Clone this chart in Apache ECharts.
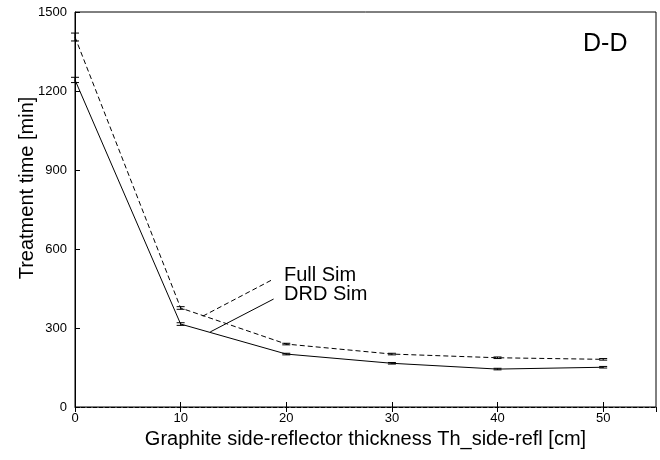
<!DOCTYPE html>
<html>
<head>
<meta charset="utf-8">
<script src="https://cdn.jsdelivr.net/npm/echarts@6/dist/echarts.min.js"></script>
<style>
  html, body { margin: 0; padding: 0; background: #fff; }
  #chart { width: 660px; height: 460px; }
</style>
</head>
<body>
<div id="chart"></div>
<script>
const thickness = [0, 10, 20, 30, 40, 50]
const fullSim = [1405, 376, 239, 201, 187, 181]
const fullSimErr = [15, 5, 3, 3, 3, 3]
const drdSim = [1242, 315, 201, 166, 144, 151]
const drdSimErr = [10, 5, 3, 3, 3, 3]
const xTicks = [0, 10, 20, 30, 40, 50]
const yTicks = [0, 300, 600, 900, 1200, 1500]

const font = 'Liberation Sans, Arial, sans-serif'

function errBars(vals, errs) {
	return thickness.map((x, i) => [x, vals[i] - errs[i], vals[i] + errs[i]])
}

function renderErr(params, api) {
	const lo = api.coord([api.value(0), api.value(1)])
	const hi = api.coord([api.value(0), api.value(2)])
	const w = 4
	const style = { stroke: '#000', lineWidth: 1 }
	return {
		type: 'group',
		children: [
			{ type: 'line', shape: { x1: lo[0], y1: lo[1], x2: hi[0], y2: hi[1] }, style },
			{ type: 'line', shape: { x1: lo[0] - w, y1: lo[1], x2: lo[0] + w, y2: lo[1] }, style },
			{ type: 'line', shape: { x1: hi[0] - w, y1: hi[1], x2: hi[0] + w, y2: hi[1] }, style },
		],
	}
}

const chart = echarts.init(document.getElementById('chart'))
chart.setOption({
	animation: false,
	textStyle: { fontFamily: font },
	grid: {
		left: 75, right: 4, top: 12, bottom: 53,
		show: true, borderColor: '#000', borderWidth: 1,
	},
	xAxis: [{
		type: 'value', min: 0, max: 55, interval: 10,
		name: 'Graphite side-reflector thickness Th_side-refl [cm]',
		nameLocation: 'middle', nameGap: 22,
		nameTextStyle: { fontSize: 20, color: '#000', fontFamily: font },
		axisLine: { show: true, onZero: false, lineStyle: { color: '#000', type: [4, 2] } },
		axisTick: { inside: true, length: 5, lineStyle: { color: '#000' } },
		axisLabel: {
			color: '#000', fontSize: 13, margin: 5, showMaxLabel: false,
			formatter: (v) => (xTicks.includes(v) ? String(v) : ''),
		},
		splitLine: { show: false },
	}, {
		type: 'value', min: 0, max: 55, interval: 10, position: 'top',
		axisLine: { show: false },
		axisTick: { inside: true, length: 5, lineStyle: { color: '#000' } },
		axisLabel: { show: false },
		splitLine: { show: false },
	}],
	yAxis: {
		type: 'value', min: 0, max: 1500, interval: 300,
		axisLine: { show: true, lineStyle: { color: '#000' } },
		axisTick: { inside: true, length: 5, lineStyle: { color: '#000' } },
		axisLabel: {
			color: '#000', fontSize: 13, margin: 8,
			formatter: (v) => (yTicks.includes(v) ? String(v) : ''),
		},
		splitLine: { show: false },
	},
	series: [
		{
			name: 'Full Sim', type: 'line',
			data: thickness.map((x, i) => [x, fullSim[i]]),
			symbol: 'none',
			lineStyle: { color: '#000', width: 1, type: [5, 3] },
			markLine: {
				silent: true, symbol: 'none',
				lineStyle: { color: '#000', width: 1, type: [5, 3] },
				label: { show: false },
				data: [[{ coord: [12.1, 345] }, { coord: [18.8, 486] }]],
			},
		},
		{
			name: 'DRD Sim', type: 'line',
			data: thickness.map((x, i) => [x, drdSim[i]]),
			symbol: 'none',
			lineStyle: { color: '#000', width: 1 },
			markLine: {
				silent: true, symbol: 'none',
				lineStyle: { color: '#000', width: 1, type: 'solid' },
				label: { show: false },
				data: [[{ coord: [12.8, 285] }, { coord: [18.8, 410] }]],
			},
		},
		{
			type: 'custom', renderItem: renderErr,
			data: errBars(fullSim, fullSimErr), z: 3,
		},
		{
			type: 'custom', renderItem: renderErr,
			data: errBars(drdSim, drdSimErr), z: 3,
		},
	],
	graphic: [
		{
			type: 'text', x: 27, y: 188, rotation: Math.PI / 2,
			style: {
				text: 'Treatment time [min]', font: '20px ' + font, fill: '#000',
				align: 'center', verticalAlign: 'middle',
			},
		},
		{ type: 'text', left: 284, top: 265, style: { text: 'Full Sim', font: '20px ' + font, fill: '#000' } },
		{ type: 'text', left: 284, top: 284, style: { text: 'DRD Sim', font: '20px ' + font, fill: '#000' } },
		{ type: 'text', left: 583, top: 32, style: { text: 'D-D', font: '25px ' + font, fill: '#000' } },
	],
})
</script>
</body>
</html>
